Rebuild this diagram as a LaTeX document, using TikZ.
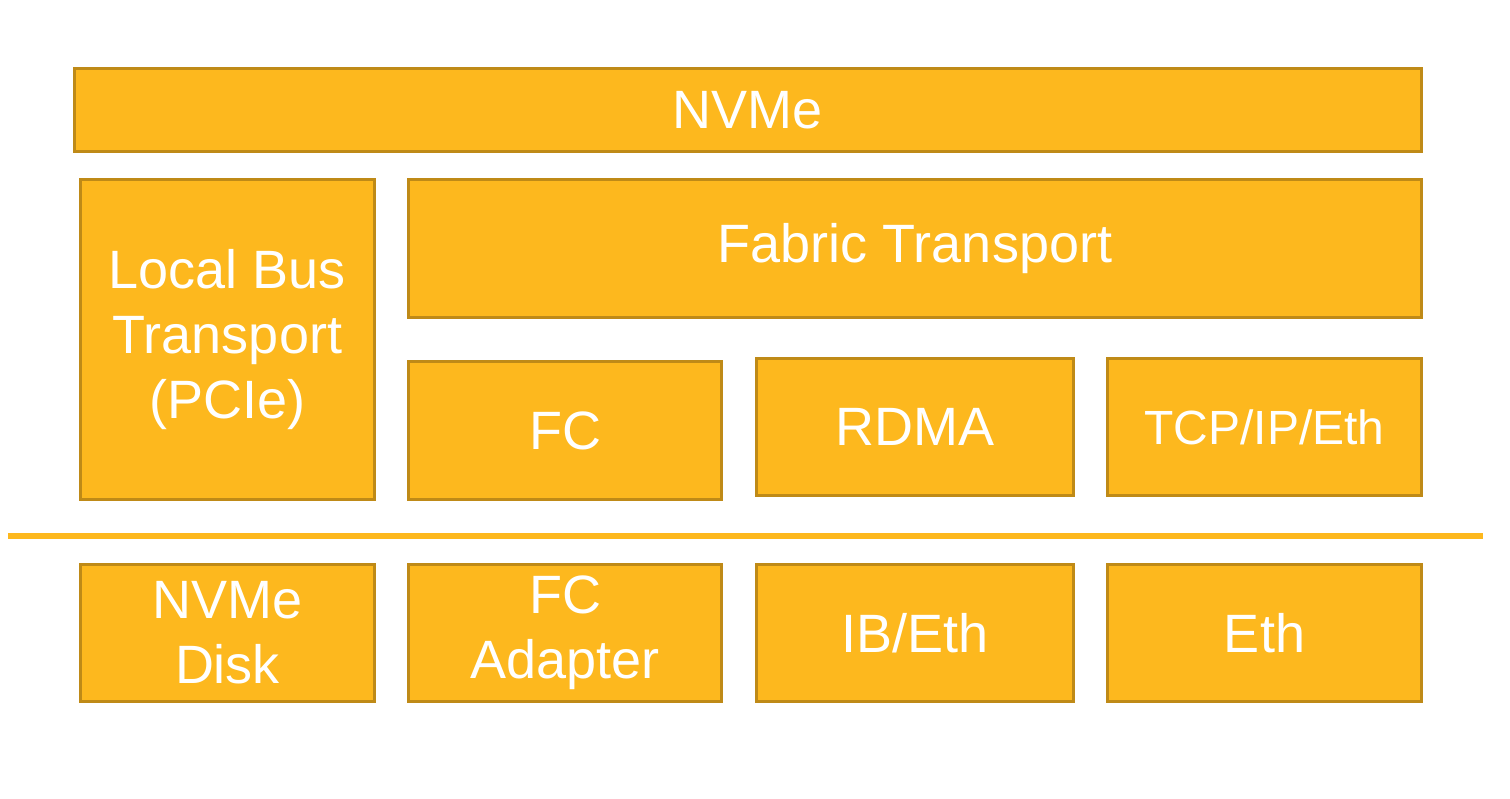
\documentclass[tikz,border=0pt]{standalone}
\usepackage{fontspec}
\setmainfont{Liberation Sans}
\usepackage{tikz}
\usetikzlibrary{positioning}
\definecolor{layerfill}{HTML}{FDB81E}
\definecolor{layerline}{HTML}{BF8A17}

\begin{document}
\begin{tikzpicture}[x=1pt, y=-1pt,
    layer/.style={draw=layerline, fill=layerfill, line width=3pt, text=white,
      align=center, inner sep=0pt, minimum height=137pt,
      font=\fontsize{54}{65}\selectfont}]
   \useasboundingbox (0,0) rectangle (1510,798);
   % upper stack
   \node[layer, minimum width=1347pt, minimum height=83pt] (nvme) at (748,110) {NVMe};
   \node[layer, minimum width=294pt, minimum height=320pt] (pcie) at (227.5,339.5) {Local Bus\\Transport\\(PCIe)};
   \node[layer, minimum width=1013pt, minimum height=138pt] (fabric) at (915,248.5) {Fabric Transport};
   \node[layer, minimum width=313pt, minimum height=138pt] (fc) at (565,430.5) {FC};
   \node[layer, minimum width=317pt] (rdma) at (915,427) {RDMA};
   \node[layer, minimum width=314pt, font=\fontsize{48}{58}\selectfont] (tcp) at (1264.5,427) {TCP/IP/Eth};
   % separator
   \coordinate (sep_l) at (8,535.5);
   \coordinate (sep_r) at (1483,535.5);
   \draw[layerfill, line width=6pt] (sep_l) -- (sep_r);
   % hardware row
   \node[layer, minimum width=294pt] (disk) at (227.5,633) {NVMe\\Disk};
   \node[layer, minimum width=313pt] (fcad) at (565,633) {FC\\Adapter};
   \node[layer, minimum width=317pt] (ib) at (915,633) {IB/Eth};
   \node[layer, minimum width=314pt] (eth) at (1264.5,633) {Eth};
\end{tikzpicture}
\end{document}
